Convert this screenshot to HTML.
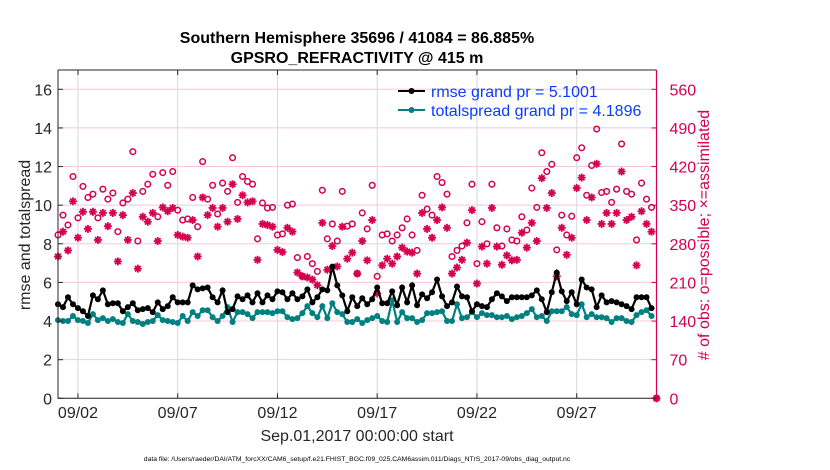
<!DOCTYPE html>
<html><head><meta charset="utf-8"><style>
body{margin:0;background:#fff;}
svg{display:block;font-family:"Liberation Sans",Arial,sans-serif;}
</style></head><body>
<svg id="chart" width="830" height="470" viewBox="0 0 830 470">
<rect width="830" height="470" fill="#fff"/>
<text x="357" y="43" text-anchor="middle" font-size="16" font-weight="bold" fill="#000">Southern Hemisphere 35696 / 41084 = 86.885%</text>
<text x="357" y="63" text-anchor="middle" font-size="16" font-weight="bold" fill="#000">GPSRO_REFRACTIVITY @ 415 m</text>
<g id="grid"></g><g id="marks"></g><g id="axes"></g>
<text transform="translate(30,235) rotate(-90)" text-anchor="middle" font-size="16" fill="#262626">rmse and totalspread</text>
<text transform="translate(709,235) rotate(-90)" text-anchor="middle" font-size="16" fill="#d4004f"># of obs: o=possible; ×=assimilated</text>
<text x="357" y="441" text-anchor="middle" font-size="16" fill="#262626">Sep.01,2017 00:00:00 start</text>
<text x="357" y="461" text-anchor="middle" font-size="6.8" fill="#000">data file: /Users/raeder/DAI/ATM_forcXX/CAM6_setup/f.e21.FHIST_BGC.f09_025.CAM6assim.011/Diags_NTrS_2017-09/obs_diag_output.nc</text>
<g>
<line x1="398" y1="91" x2="425" y2="91" stroke="#000" stroke-width="2"/>
<circle cx="411.5" cy="91" r="3" fill="#000"/>
<text x="431" y="97" font-size="16" fill="#0a3cff">rmse grand pr = 5.1001</text>
<line x1="398" y1="110" x2="425" y2="110" stroke="#008080" stroke-width="2"/>
<circle cx="411.5" cy="110" r="3" fill="#008080"/>
<text x="431" y="116" font-size="16" fill="#0a3cff">totalspread grand pr = 4.1896</text>
</g>
</svg>
<script>
const rmse = [4.87,4.72,5.23,4.87,4.67,4.51,4.26,5.33,5.13,5.59,4.87,4.92,4.92,4.51,4.72,4.92,4.56,4.62,4.67,4.46,4.97,4.62,4.77,5.23,4.97,4.97,4.97,5.85,5.64,5.69,5.74,5.23,4.97,5.59,4.46,4.62,5.28,5.13,5.33,4.97,5.44,4.97,
5.33,5.13,5.54,5.49,5.13,5.44,5.13,5.28,5.64,4.97,5.23,5.64,5.59,6.82,5.85,5.33,4.51,5.23,4.77,5.18,4.87,5.13,5.74,4.92,4.92,5.54,4.82,5.74,4.97,5.85,4.82,5.38,5.18,5.49,6.15,5.28,4.77,4.97,5.79,5.28,
5.23,4.51,4.87,4.77,4.72,5.13,5.44,5.28,5.03,5.23,5.23,5.23,5.23,5.33,5.59,5.13,4.46,5.49,6.51,5.54,5.03,5.49,4.87,6.15,5.74,5.64,4.72,5.33,4.97,5.03,4.97,4.87,4.77,4.62,5.23,5.23,5.23,4.67];
const spread = [4.05,4.0,4.0,4.26,4.05,4.0,3.9,4.36,4.05,4.15,4.0,4.1,3.95,3.9,4.36,4.0,3.95,3.85,3.95,4.0,4.31,4.05,4.0,3.95,3.9,4.26,4.0,4.46,4.26,4.56,4.56,4.2,4.0,4.26,4.72,3.95,4.46,4.46,4.36,4.15,4.46,4.46,
4.46,4.41,4.51,4.51,4.2,4.1,4.15,4.41,4.77,4.41,4.2,4.77,4.15,4.92,4.46,4.36,3.95,3.95,4.1,3.9,4.05,4.15,4.26,4.0,3.95,5.08,3.95,4.46,4.15,4.15,3.95,4.05,4.41,4.41,4.46,4.51,4.0,4.0,4.87,4.15,
4.2,4.46,4.2,4.41,4.31,4.31,4.2,4.2,4.26,4.1,4.2,4.26,4.41,4.62,4.2,4.26,4.0,4.51,4.51,4.51,4.72,4.36,4.31,4.87,4.2,4.36,4.2,4.2,4.15,3.95,4.15,4.15,4.0,3.95,4.31,4.46,4.56,4.26];
const possible = [296,332,314,402,327,384,364,370,327,379,361,372,302,354,361,447,285,375,388,406,329,409,386,411,341,323,325,364,311,429,361,386,334,390,375,436,355,402,393,388,289,354,
345,346,296,298,350,352,255,221,257,244,230,377,289,316,285,375,312,316,226,336,307,386,221,296,298,285,296,309,325,296,268,368,343,332,402,391,370,257,268,276,
318,388,244,320,280,388,309,276,307,287,285,329,305,381,346,445,411,424,269,332,296,330,436,454,368,422,488,373,375,355,379,461,375,370,287,390,361,346,0];
const assimilated = [257,302,268,357,291,338,307,338,287,336,312,336,248,332,287,372,235,329,320,336,285,346,339,345,296,293,291,323,257,364,332,345,311,345,320,388,325,368,355,357,251,316,
314,311,269,265,309,302,228,221,219,215,205,318,233,276,239,311,253,264,226,285,250,323,190,241,253,244,257,273,266,264,226,336,307,291,323,346,309,226,237,251,
282,341,208,275,244,345,275,242,259,250,251,300,273,318,285,399,345,372,221,309,260,291,381,400,323,364,425,316,336,316,336,411,323,329,241,339,316,302,0];
const leftTicks = [0,2,4,6,8,10,12,14,16];
const rightTicks = [0,70,140,210,280,350,420,490,560];
const dateTicks = [1,6,11,16,21,26];
const dateLabels = ["09/02","09/07","09/12","09/17","09/22","09/27"];
const stepDays = 0.25;

const X0=58, X1=656.5, Y0=398.3, Y1=70;
const xS = d => X0 + d/30*(X1-X0);
const yL = v => Y0 - v/17*(Y0-Y1);
const yR = n => Y0 - n/595*(Y0-Y1);
const NS='http://www.w3.org/2000/svg';
function mk(tag, attrs, parent){const e=document.createElementNS(NS,tag);for(const k in attrs)e.setAttribute(k,attrs[k]);parent.appendChild(e);return e;}
const grid=document.getElementById('grid'), marks=document.getElementById('marks'), axes=document.getElementById('axes');
const MAG='#d4004f';

leftTicks.forEach(v=>{
  const l=mk('line',{x1:X0,x2:X1,y1:yL(v),y2:yL(v),stroke:'#f6c8d8','stroke-width':1},grid);
  
  
  const t=mk('line',{x1:X0,x2:X0+5,y1:yL(v),y2:yL(v),stroke:'#262626'},axes);
  
  
  const tx=mk('text',{x:X0-6,y:yL(v)+6,'text-anchor':'end','font-size':16,fill:'#262626'},axes);
  tx.textContent=v;
  
  
});
rightTicks.forEach(n=>{
  const t=mk('line',{x1:X1-5,x2:X1,y1:yR(n),y2:yR(n),stroke:MAG},axes);
  
  
  const tx=mk('text',{x:X1+13,y:yR(n)+6,'font-size':16,fill:MAG},axes);
  tx.textContent=n;
  
  
});
dateTicks.forEach((d,i)=>{
  const g=mk('line',{x1:xS(d),x2:xS(d),y1:Y1,y2:Y0,stroke:'#d9d9d9','stroke-width':1},grid);
  
  
  mk('line',{x1:xS(d),x2:xS(d),y1:Y0,y2:Y0-5,stroke:'#262626'},axes);
  mk('line',{x1:xS(d),x2:xS(d),y1:Y1,y2:Y1+5,stroke:'#262626'},axes);
  const tx=mk('text',{x:xS(d),y:418,'text-anchor':'middle','font-size':16,fill:'#262626'},axes);
  tx.textContent=dateLabels[i];
  
  
});
const frame=mk('path',{d:`M${X0},${Y1}H${X1}M${X0},${Y1}V${Y0}H${X1}`,stroke:'#262626',fill:'none','stroke-width':1},axes);


const rAx=mk('line',{x1:X1,x2:X1,y1:Y1,y2:Y0,stroke:MAG,'stroke-width':1.2},axes);



possible.forEach((n,i)=>{
  const c=mk('circle',{cx:xS(i*stepDays),cy:yR(n),r:2.8,fill:'none',stroke:MAG,'stroke-width':1.5},marks);
  
  
});
assimilated.forEach((n,i)=>{
  const cx=xS(i*stepDays), cy=yR(n), r=4;
  const g=mk('g',{stroke:MAG,'stroke-width':1.8},marks);
  
  
  mk('line',{x1:cx-r,x2:cx+r,y1:cy,y2:cy},g);
  mk('line',{x1:cx,x2:cx,y1:cy-r,y2:cy+r},g);
  mk('line',{x1:cx-r*0.7,x2:cx+r*0.7,y1:cy-r*0.7,y2:cy+r*0.7},g);
  mk('line',{x1:cx-r*0.7,x2:cx+r*0.7,y1:cy+r*0.7,y2:cy-r*0.7},g);
});
function series(vals,color,name){
  const pts=vals.map((v,i)=>xS(i*stepDays)+','+yL(v)).join(' ');
  const pl=mk('polyline',{points:pts,fill:'none',stroke:color,'stroke-width':2.2},marks);
  
  
  vals.forEach((v,i)=>{
    const c=mk('circle',{cx:xS(i*stepDays),cy:yL(v),r:3,fill:color},marks);
    
    
  });
}
series(spread,'#008080','totalspread');
series(rmse,'#000','rmse');
</script>
</body></html>
